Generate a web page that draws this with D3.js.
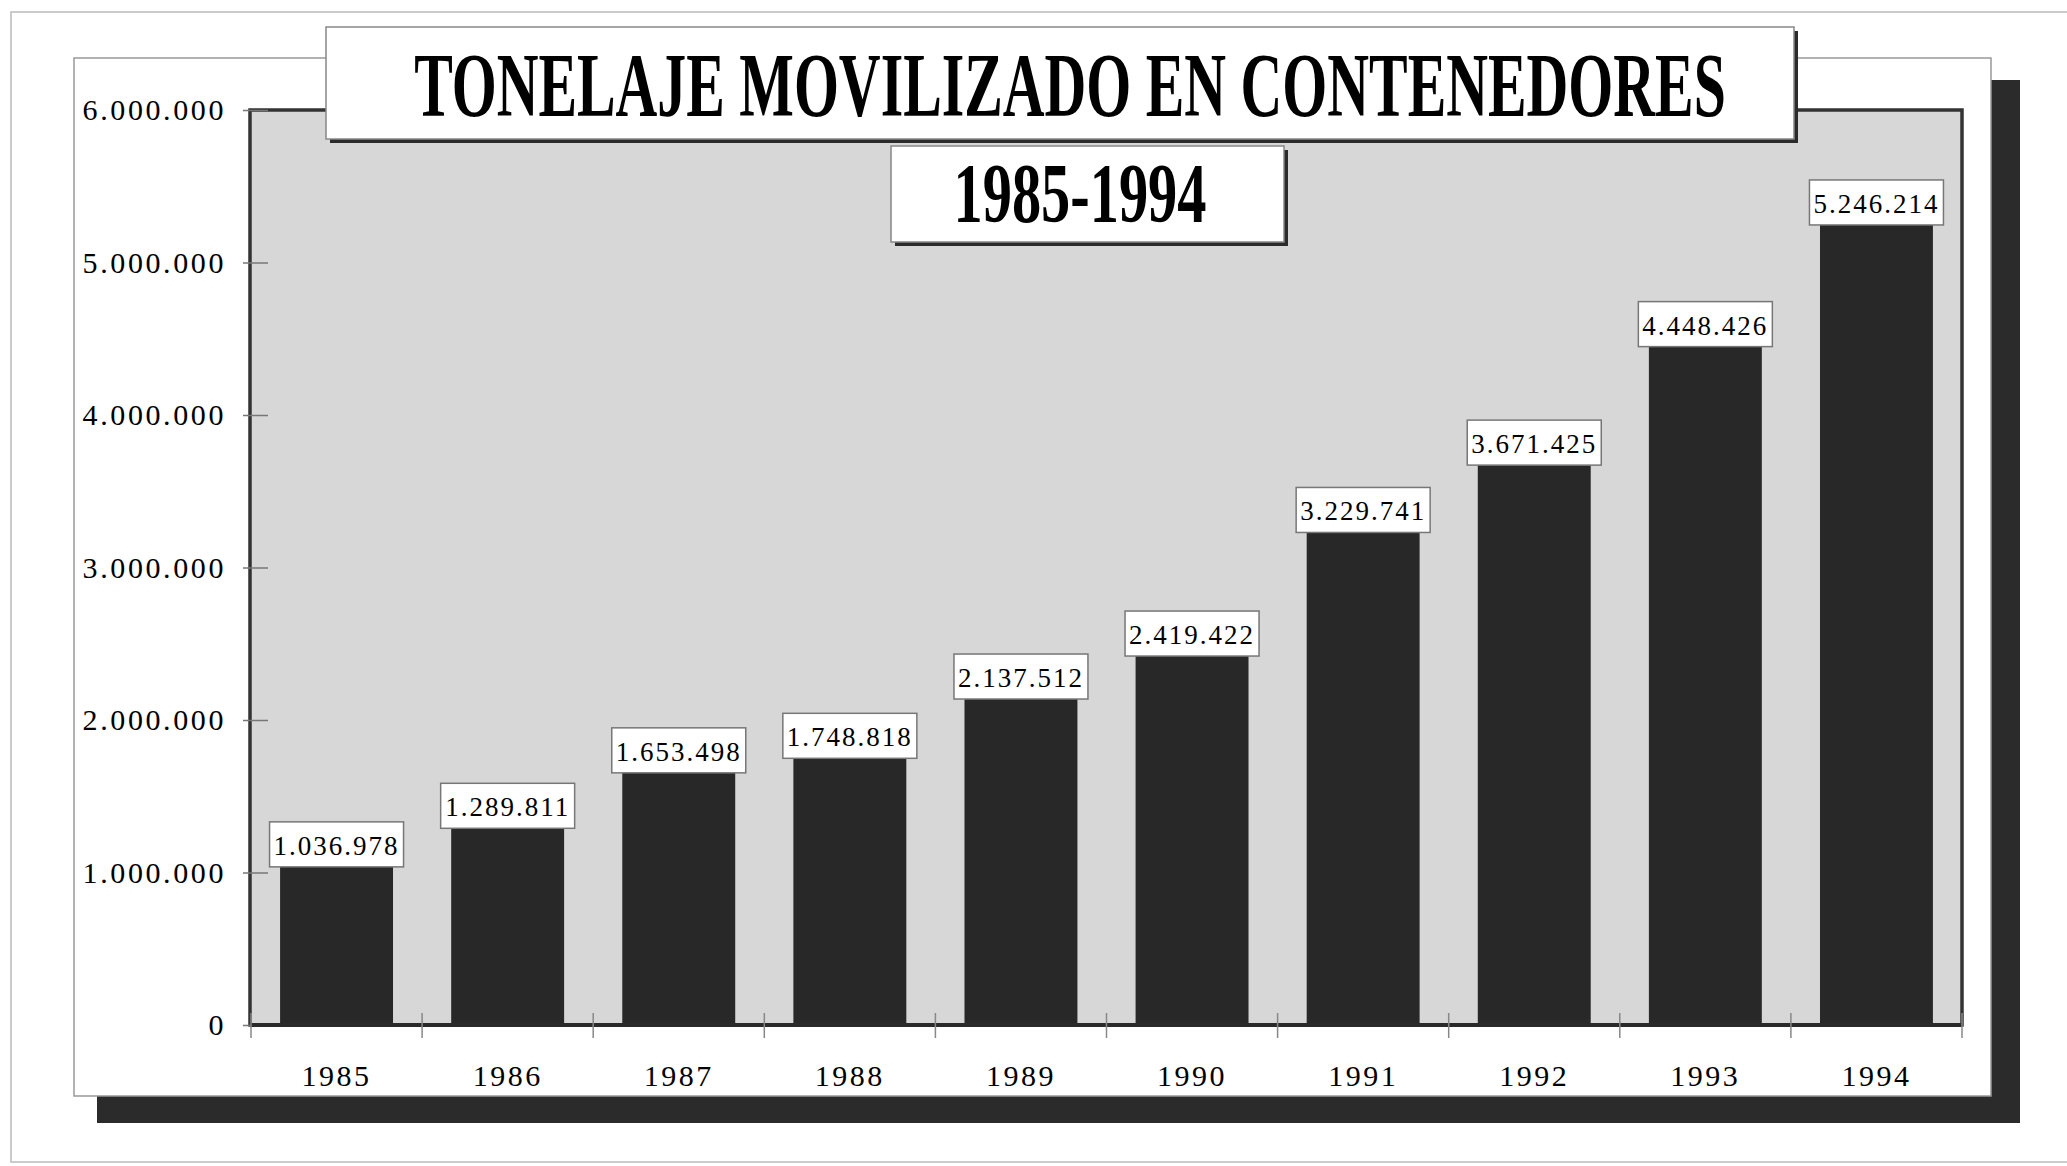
<!DOCTYPE html>
<html>
<head>
<meta charset="utf-8">
<script src="https://cdn.jsdelivr.net/npm/d3@7"></script>
<style>
  body { margin: 0; background: #fff; }
  svg { display: block; }
  text { font-family: "Liberation Serif", "Times New Roman", serif; }
</style>
</head>
<body>
<div id="chart"></div>
<script>
const W = 2067, H = 1166;
const years = ["1985", "1986", "1987", "1988", "1989", "1990", "1991", "1992", "1993", "1994"];
const tonnes = [1036978, 1289811, 1653498, 1748818, 2137512, 2419422, 3229741, 3671425, 4448426, 5246214];
const yTicks = [0, 1000000, 2000000, 3000000, 4000000, 5000000, 6000000];
const title = "TONELAJE MOVILIZADO EN CONTENEDORES";
const subtitle = "1985-1994";

// plot area
const PLOT = { left: 250, right: 1962, top: 110, bottom: 1025 };

const svg = d3.select("#chart").append("svg")
    .attr("width", W).attr("height", H);

// dotted number format 1.234.567
const fmt = d => d3.format(",")(d).replace(/,/g, ".");

// outer faint page frame
svg.append("rect")
    .attr("x", 11).attr("y", 12).attr("width", W + 20).attr("height", 1150)
    .attr("fill", "none").attr("stroke", "#bbb").attr("stroke-width", 1.5);

// panel shadow + panel
svg.append("rect")
    .attr("x", 97).attr("y", 80).attr("width", 1923).attr("height", 1043)
    .attr("fill", "#2b2b2b");
svg.append("rect")
    .attr("x", 74).attr("y", 58).attr("width", 1917).attr("height", 1038)
    .attr("fill", "#fff").attr("stroke", "#999").attr("stroke-width", 1.5);

let x = d3.scaleBand()
    .domain(years)
    .range([PLOT.left + 1, PLOT.right])
    .paddingInner(0.34)
    .paddingOuter(0.17);
let y = d3.scaleLinear()
    .domain([0, 6000000])
    .range([PLOT.bottom, PLOT.top]);

// plot background
svg.append("rect")
    .attr("x", PLOT.left).attr("y", y(6000000))
    .attr("width", PLOT.right - PLOT.left).attr("height", y(0) - y(6000000))
    .attr("fill", "#d7d7d7").attr("stroke", "#333").attr("stroke-width", 3.5);

// y axis
const yAx = svg.append("g")
    .attr("class", "yaxis")
    .attr("transform", "translate(" + PLOT.left + ",0)")
    .call(d3.axisLeft(y).tickValues(yTicks).tickFormat(fmt).tickSize(7).tickPadding(17));
yAx.select(".domain").remove();
yAx.selectAll(".tick line").attr("x1", -7).attr("x2", 18).attr("stroke", "#777").attr("stroke-width", 1.5);
yAx.selectAll(".tick text")
    .attr("fill", "#000")
    .style("font-size", "30px")
    .style("letter-spacing", "2.6px");

// bars
svg.append("g").selectAll("rect")
    .data(tonnes)
    .join("rect")
    .attr("x", (d, i) => x(years[i]))
    .attr("y", d => y(d))
    .attr("width", x.bandwidth())
    .attr("height", d => y(0) - y(d) - 2)
    .attr("fill", "#282828");

// baseline
svg.append("line")
    .attr("x1", PLOT.left).attr("x2", PLOT.right)
    .attr("y1", y(0)).attr("y2", y(0))
    .attr("stroke", "#2a2a2a").attr("stroke-width", 4);

// x tick marks at category boundaries
const bounds = d3.range(years.length + 1).map(i => x.range()[0] + i * x.step());
svg.append("g").selectAll("line")
    .data(bounds)
    .join("line")
    .attr("x1", d => d).attr("x2", d => d)
    .attr("y1", y(0) - 12).attr("y2", y(0) + 13)
    .attr("stroke", "#888").attr("stroke-width", 1.5);

// x labels
const xAx = svg.append("g")
    .attr("class", "xaxis")
    .attr("transform", "translate(0," + y(0) + ")")
    .call(d3.axisBottom(x).tickSize(0).tickPadding(40));
xAx.select(".domain").remove();
xAx.selectAll(".tick text")
    .attr("fill", "#000")
    .style("font-size", "30px")
    .style("letter-spacing", "2.5px");

// value labels
const LBL_W = 134, LBL_H = 45;
const lbl = svg.append("g").selectAll("g")
    .data(tonnes)
    .join("g")
    .attr("transform", (d, i) => "translate(" + (x(years[i]) + x.bandwidth() / 2) + "," + y(d) + ")");
lbl.append("rect")
    .attr("x", -LBL_W / 2).attr("y", -LBL_H)
    .attr("width", LBL_W).attr("height", LBL_H)
    .attr("fill", "#fff").attr("stroke", "#777").attr("stroke-width", 1.5);
lbl.append("text")
    .attr("y", -12)
    .attr("text-anchor", "middle")
    .style("font-size", "27px")
    .style("letter-spacing", "2px")
    .text(d => fmt(d));

// condensed bold text: squeeze to the wanted width
function squeezed(txt, cx, baseY, size, wantW) {
    const t = svg.append("text")
        .attr("text-anchor", "middle")
        .style("font-size", size + "px").style("font-weight", "bold")
        .text(txt);
    const natW = t.node().getComputedTextLength();
    t.attr("transform", "translate(" + cx + "," + baseY + ") scale(" + (wantW / natW) + ",1)");
    return t;
}

// title box
svg.append("rect").attr("x", 330).attr("y", 31).attr("width", 1468).attr("height", 112).attr("fill", "#2b2b2b");
svg.append("rect").attr("x", 326).attr("y", 27).attr("width", 1468).attr("height", 112)
    .attr("fill", "#fff").attr("stroke", "#888").attr("stroke-width", 1.5);
squeezed(title, 1070, 116, 92, 1312);

// subtitle box
svg.append("rect").attr("x", 895).attr("y", 150).attr("width", 393).attr("height", 96).attr("fill", "#2b2b2b");
svg.append("rect").attr("x", 891).attr("y", 146).attr("width", 393).attr("height", 96)
    .attr("fill", "#fff").attr("stroke", "#888").attr("stroke-width", 1.5);
squeezed(subtitle, 1080, 222, 84, 253);
</script>
</body>
</html>
